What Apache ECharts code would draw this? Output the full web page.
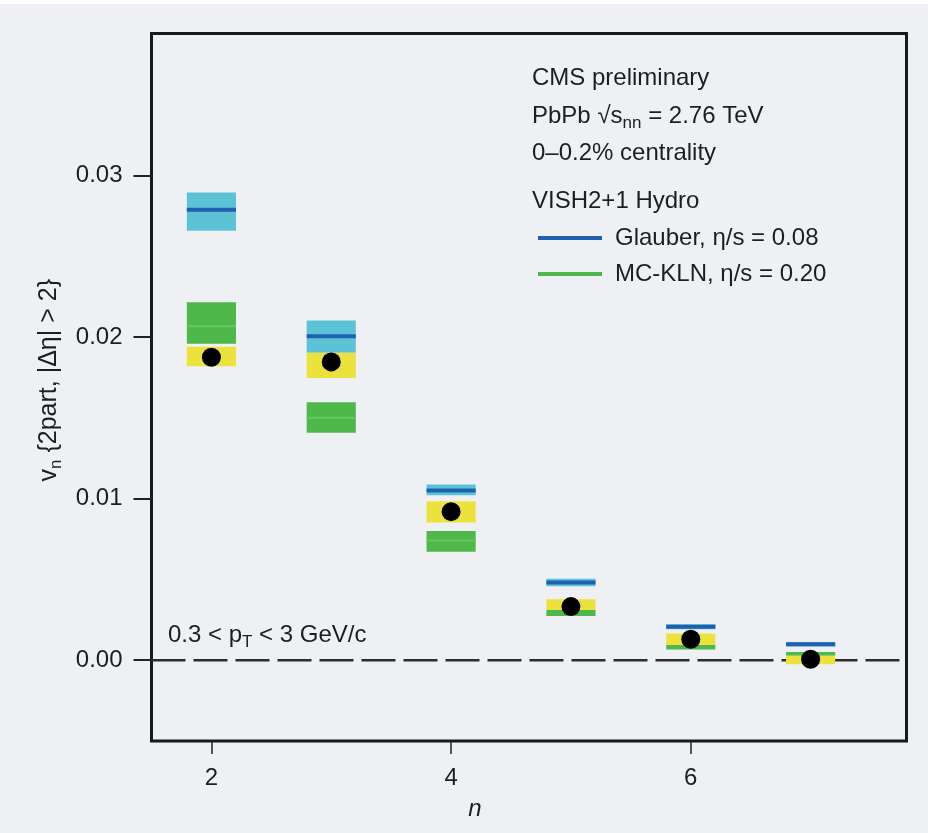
<!DOCTYPE html>
<html>
<head>
<meta charset="utf-8">
<script src="https://cdn.jsdelivr.net/npm/echarts@6/dist/echarts.min.js"></script>
<style>
html,body{margin:0;padding:0;background:#eef0f4;}
#chart{width:928px;height:833px;}
</style>
</head>
<body>
<div id="chart"></div>
<script>
// harmonic order n
const nVals = [2, 3, 4, 5, 6, 7];
// VISH2+1 Glauber, eta/s = 0.08 (band and central value)
const glauberLow  = [0.02659, 0.01903, 0.01022, 0.00458, 0.00192, 0.00085];
const glauberHigh = [0.02896, 0.02104, 0.01088, 0.00505, 0.00223, 0.00113];
const glauberMid  = [0.02789, 0.02006, 0.01051, 0.00482, 0.00207, 0.00099];
// VISH2+1 MC-KLN, eta/s = 0.20 (band and central value)
const klnLow  = [0.01960, 0.01408, 0.00671, 0.00274, 0.00066, 0.00027];
const klnHigh = [0.02216, 0.01597, 0.00800, 0.00311, 0.00095, 0.00051];
const klnMid  = [0.02067, 0.01501, 0.00742, 0.00293, 0.00080, 0.00039];
// CMS data: systematic band and measured value
const dataSysLow  = [0.01820, 0.01748, 0.00852, 0.00311, 0.00095, -0.00025];
const dataSysHigh = [0.01940, 0.01903, 0.00985, 0.00377, 0.00165, 0.00027];
const dataVal     = [0.01876, 0.01847, 0.00920, 0.00332, 0.00130, 0.00006];
// axis ticks
const xTicks = [2, 4, 6];
const yTicks = [0, 0.01, 0.02, 0.03];

const FONT = '"Liberation Sans", Arial, sans-serif';
const TXT = '#1b1f23';
const HW = 0.205; // half width of boxes in n units

const band = (lo, hi) => nVals.map((x, i) => [x, lo[i], hi[i]]);
const mid = (m) => nVals.map((x, i) => [x, m[i]]);

function bandItem(params, api) {
  const x = api.value(0);
  const p1 = api.coord([x - HW, api.value(2)]);
  const p2 = api.coord([x + HW, api.value(1)]);
  return { type: 'rect', shape: { x: p1[0], y: p1[1], width: p2[0] - p1[0], height: p2[1] - p1[1] },
           style: { fill: api.visual('color') } };
}
function lineItem(thick, minBand) {
  return function (params, api) {
    const x = api.value(0);
    const p1 = api.coord([x - HW, api.value(1)]);
    const p2 = api.coord([x + HW, api.value(1)]);
    if (minBand) {
      const i = params.dataIndex;
      const h = api.size([0, klnHigh[i] - klnLow[i]])[1];
      if (h < minBand) return null;
    }
    return { type: 'rect', shape: { x: p1[0], y: p1[1] - thick / 2, width: p2[0] - p1[0], height: thick },
             style: { fill: api.visual('color') } };
  };
}
const subRich = { s: { fontSize: 17, fontFamily: FONT, color: TXT, fill: TXT, verticalAlign: 'top', lineHeight: 17, padding: [11, 0, 0, 0] } };

const chart = echarts.init(document.getElementById('chart'), null, { renderer: 'canvas' });
chart.setOption({
  backgroundColor: '#eef0f4',
  animation: false,
  textStyle: { fontFamily: FONT },
  grid: { left: 151.5, right: 21.5, top: 33.5, bottom: 92, show: true, borderColor: '#151a1e', borderWidth: 3, backgroundColor: 'transparent' },
  xAxis: {
    type: 'value', min: 1.5, max: 7.8,
    axisLine: { show: false, onZero: false },
    splitLine: { show: false },
    axisTick: { customValues: xTicks, length: 13, lineStyle: { color: '#222', width: 1.5 } },
    axisLabel: { customValues: xTicks, margin: 25, fontSize: 24, color: TXT, fontFamily: FONT },
    name: 'n', nameLocation: 'middle', nameGap: 56,
    nameTextStyle: { fontSize: 24, fontStyle: 'italic', color: TXT, fontFamily: FONT, padding: [0, 108, 0, 0] }
  },
  yAxis: {
    type: 'value', min: -0.005, max: 0.0388,
    axisLine: { show: false, onZero: false },
    splitLine: { show: false },
    axisTick: { customValues: yTicks, length: 18, lineStyle: { color: '#222', width: 2 } },
    axisLabel: { customValues: yTicks, margin: 29, fontSize: 24, color: TXT, fontFamily: FONT, formatter: v => v.toFixed(2) },
    name: 'v{s|n} {2part, |Δη| > 2}', nameLocation: 'middle', nameGap: 80, nameRotate: 90,
    nameTextStyle: { fontSize: 25, color: TXT, fontFamily: FONT, padding: [0, 0, 0, 14],
      rich: { s: { fontSize: 17, fontFamily: FONT, color: TXT, verticalAlign: 'top', lineHeight: 17, padding: [11, 0, 0, 0] } } }
  },
  legend: {
    orient: 'vertical', left: 538, top: 226, padding: 0,
    itemWidth: 64, itemHeight: 4, itemGap: 12, icon: 'rect',
    textStyle: { fontSize: 24, color: TXT, fontFamily: FONT, lineHeight: 24, padding: [0, 0, 0, 8] },
    data: ['Glauber, η/s = 0.08', 'MC-KLN, η/s = 0.20'],
    selectedMode: false
  },
  graphic: [
    { type: 'rect', left: 0, top: 0, shape: { width: 928, height: 4 }, style: { fill: '#ffffff' }, silent: true },
    { type: 'text', left: 532, top: 66, style: { text: 'CMS preliminary', font: '24px ' + FONT, fill: TXT } },
    { type: 'text', left: 532, top: 104, style: { text: 'PbPb √s{s|nn} = 2.76 TeV', font: '24px ' + FONT, fill: TXT, rich: subRich } },
    { type: 'text', left: 532, top: 141, style: { text: '0–0.2% centrality', font: '24px ' + FONT, fill: TXT } },
    { type: 'text', left: 532, top: 189, style: { text: 'VISH2+1 Hydro', font: '24px ' + FONT, fill: TXT } },
    { type: 'text', left: 168, top: 623, style: { text: '0.3 < p{s|T} < 3 GeV/c', font: '24px ' + FONT, fill: TXT, rich: subRich } }
  ],
  series: [
    { type: 'line', silent: true, symbol: 'none', z: 1,
      data: [[1.5, 0], [7.8, 0]],
      lineStyle: { color: '#2a2c30', width: 2.5, type: [34, 8] } },
    { name: 'Glauber band', type: 'custom', renderItem: bandItem, z: 2,
      itemStyle: { color: '#5cc3d7' }, data: band(glauberLow, glauberHigh) },
    { name: 'MC-KLN, η/s = 0.20', type: 'custom', renderItem: bandItem, z: 3,
      itemStyle: { color: '#4fb84b' }, data: band(klnLow, klnHigh) },
    { name: 'MC-KLN mid', type: 'custom', renderItem: lineItem(2, 12), z: 4,
      itemStyle: { color: '#67c464' }, data: mid(klnMid) },
    { name: 'CMS sys', type: 'custom', renderItem: bandItem, z: 5,
      itemStyle: { color: '#ebe33c' }, data: band(dataSysLow, dataSysHigh) },
    { name: 'Glauber, η/s = 0.08', type: 'custom', renderItem: lineItem(4), z: 6,
      itemStyle: { color: '#1f60b0' }, data: mid(glauberMid) },
    { name: 'CMS data', type: 'scatter', symbol: 'circle', symbolSize: 19, z: 7,
      itemStyle: { color: '#000000', opacity: 1 }, data: mid(dataVal) }
  ]
});
</script>
</body>
</html>
